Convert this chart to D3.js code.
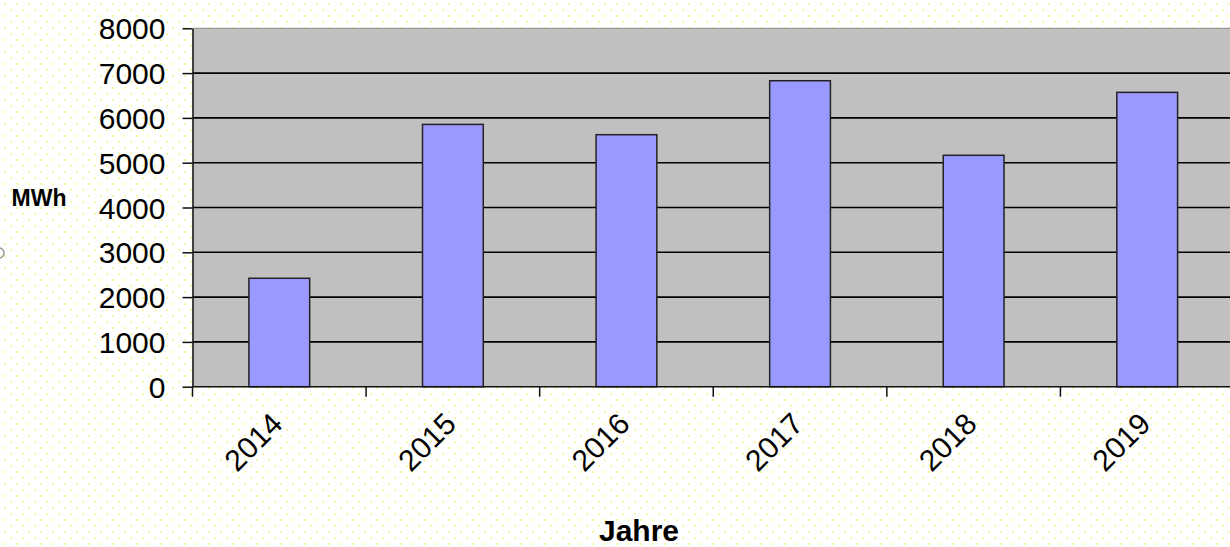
<!DOCTYPE html>
<html>
<head>
<meta charset="utf-8">
<script src="https://cdn.jsdelivr.net/npm/d3@7"></script>
<style>
  html, body { margin: 0; padding: 0; background: #ffffff; }
  svg { display: block; }
</style>
</head>
<body>
<script>
const categories = ["2014", "2015", "2016", "2017", "2018", "2019"];
const values = [2420, 5855, 5625, 6830, 5165, 6570];
const yTicks = [0, 1000, 2000, 3000, 4000, 5000, 6000, 7000, 8000];
const yLabel = "MWh";
const xLabel = "Jahre";

const W = 1230, H = 547;
const plot = { left: 192.5, right: 1234, top: 28.3, bottom: 386.7 };

const svg = d3.select("body").append("svg").attr("width", W).attr("height", H)
  .style("font-family", "'Liberation Sans', Arial, sans-serif");

// dotted background
const defs = svg.append("defs");
const pat = defs.append("pattern").attr("id", "dots").attr("patternUnits", "userSpaceOnUse")
  .attr("width", 12).attr("height", 12);
pat.append("rect").attr("width", 12).attr("height", 12).attr("fill", "#ffffff");
pat.append("circle").attr("cx", 5).attr("cy", 4).attr("r", 0.9).attr("fill", "#f4f47a");
pat.append("circle").attr("cx", 11).attr("cy", 10).attr("r", 0.9).attr("fill", "#f4f47a");
svg.append("rect").attr("width", W).attr("height", H).attr("fill", "url(#dots)");

const x = d3.scaleBand().domain(categories).range([plot.left, plot.right]).padding(0);
const y = d3.scaleLinear().domain([0, 8000]).range([plot.bottom, plot.top]);

// plot area
svg.append("rect").attr("x", plot.left).attr("y", plot.top)
  .attr("width", plot.right - plot.left).attr("height", plot.bottom - plot.top)
  .attr("fill", "#c0c0c0");
svg.append("line").attr("x1", plot.left).attr("x2", plot.right)
  .attr("y1", y(8000)).attr("y2", y(8000)).attr("stroke", "#8a8a8a").attr("stroke-width", 1);

// gridlines
svg.append("g").selectAll("line").data(yTicks.filter(d => d > 0 && d < 8000)).join("line")
  .attr("x1", plot.left).attr("x2", plot.right)
  .attr("y1", d => y(d)).attr("y2", d => y(d))
  .attr("stroke", "#000").attr("stroke-width", 1.6);

// bars
const barW = x.bandwidth() * 0.35;
svg.append("g").selectAll("rect").data(values).join("rect")
  .attr("x", (d, i) => x(categories[i]) + x.bandwidth() / 2 - barW / 2)
  .attr("y", d => y(d))
  .attr("width", barW)
  .attr("height", d => y(0) - y(d))
  .attr("fill", "#9999ff")
  .attr("stroke", "#222").attr("stroke-width", 1.5);

// y axis
const yAxis = d3.axisLeft(y).tickValues(yTicks).tickSize(10).tickSizeOuter(0).tickPadding(17)
  .tickFormat(d3.format("d"));
const gy = svg.append("g").attr("transform", `translate(${plot.left},0)`).call(yAxis);
gy.select(".domain").attr("stroke", "#111").attr("stroke-width", 1.5);
gy.selectAll(".tick line").attr("stroke", "#111").attr("stroke-width", 1.5);
gy.selectAll(".tick text").attr("font-size", 30).attr("fill", "#000")
  .attr("font-family", "'Liberation Sans', Arial, sans-serif").attr("dy", "0.35em");

// x axis
const gx = svg.append("g").attr("transform", `translate(0,${plot.bottom})`);
gx.append("line").attr("x1", plot.left).attr("x2", plot.right).attr("y1", 0).attr("y2", 0)
  .attr("stroke", "#111").attr("stroke-width", 1.5);
const bounds = categories.map(c => x(c)).concat([x(categories[categories.length - 1]) + x.bandwidth()]);
gx.selectAll("line.tk").data(bounds).join("line").attr("class", "tk")
  .attr("x1", d => d).attr("x2", d => d).attr("y1", 0).attr("y2", 10)
  .attr("stroke", "#111").attr("stroke-width", 1.5);
gx.selectAll("text.lbl").data(categories).join("text").attr("class", "lbl")
  .attr("transform", d => `translate(${x(d) + x.bandwidth() / 2 + 5},39) rotate(-45)`)
  .attr("text-anchor", "end")
  .attr("font-size", 30).attr("fill", "#000")
  .text(d => d);

// axis titles
svg.append("text").attr("x", 39).attr("y", 206).attr("text-anchor", "middle")
  .attr("font-size", 23).attr("font-weight", "bold").attr("fill", "#000").text(yLabel);
svg.append("text").attr("x", 639).attr("y", 541).attr("text-anchor", "middle")
  .attr("font-size", 30).attr("font-weight", "bold").attr("fill", "#000").text(xLabel);

// small cut-off circle at the left edge
svg.append("circle").attr("cx", -1).attr("cy", 253).attr("r", 5)
  .attr("fill", "none").attr("stroke", "#999").attr("stroke-width", 1.5);
</script>
</body>
</html>
